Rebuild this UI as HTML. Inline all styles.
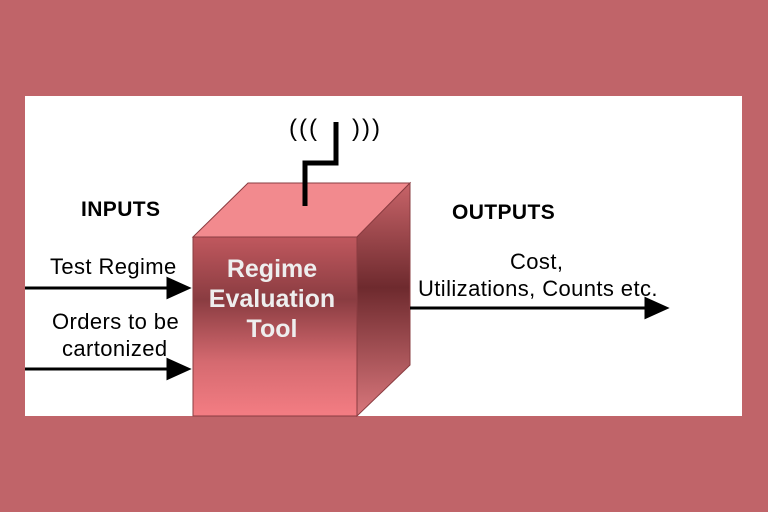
<!DOCTYPE html>
<html><head><style>
html,body{margin:0;padding:0}
body{width:768px;height:512px;background:#c06469;position:relative;overflow:hidden;font-family:"Liberation Sans",sans-serif}
.t{position:absolute;color:#000;font-size:22px;letter-spacing:0.4px;white-space:nowrap;line-height:24px}
</style></head><body>
<svg width="768" height="512" style="position:absolute;left:0;top:0">
<defs>
<linearGradient id="f" x1="0" y1="0" x2="0" y2="1">
<stop offset="0" stop-color="#c0585e"/><stop offset="0.35" stop-color="#8a3c41"/><stop offset="0.7" stop-color="#d56a70"/><stop offset="1" stop-color="#f47d83"/></linearGradient>
<linearGradient id="s" x1="0" y1="0" x2="0" y2="1">
<stop offset="0" stop-color="#c86469"/><stop offset="0.45" stop-color="#6e2a2e"/><stop offset="1" stop-color="#d9777c"/></linearGradient>
</defs>
<rect x="25" y="96" width="717" height="320" fill="#fff"/>
<polygon points="193,237 248,183 410,183 357,237" fill="#f28a8e" stroke="#8a3c41" stroke-width="1"/>
<polygon points="357,237 410,183 410,365 357,416" fill="url(#s)" stroke="#8a3c41" stroke-width="1"/>
<rect x="193" y="237" width="164" height="179" fill="url(#f)" stroke="#8a3c41" stroke-width="1"/>
<polyline points="305,206 305,163 336,163 336,122" fill="none" stroke="#000" stroke-width="5"/>
<g stroke="#000" stroke-width="3">
<line x1="25" y1="288" x2="170" y2="288"/><polygon points="168,279 188,288 168,297" fill="#000"/>
<line x1="25" y1="369" x2="170" y2="369"/><polygon points="168,360 188,369 168,378" fill="#000"/>
<line x1="410" y1="308" x2="648" y2="308"/><polygon points="646,299 666,308 646,317" fill="#000"/>
</g>
</svg>
<div class="t" style="left:289px;top:117px;font-size:24px;letter-spacing:2px">(((</div>
<div class="t" style="left:352px;top:117px;font-size:24px;letter-spacing:2px">)))</div>
<div class="t" style="left:81px;top:198px;font-weight:bold;font-size:21px">INPUTS</div>
<div class="t" style="left:452px;top:201px;font-weight:bold;font-size:21px">OUTPUTS</div>
<div class="t" style="left:50px;top:255px">Test Regime</div>
<div class="t" style="left:52px;top:310px">Orders to be</div>
<div class="t" style="left:62px;top:337px">cartonized</div>
<div class="t" style="left:510px;top:250px">Cost,</div>
<div class="t" style="left:418px;top:277px">Utilizations, Counts etc.</div>
<div class="t" style="left:187px;top:254px;width:170px;text-align:center;color:#eee;font-weight:bold;font-size:25px;letter-spacing:0;line-height:30px">Regime<br>Evaluation<br>Tool</div>
</body></html>
